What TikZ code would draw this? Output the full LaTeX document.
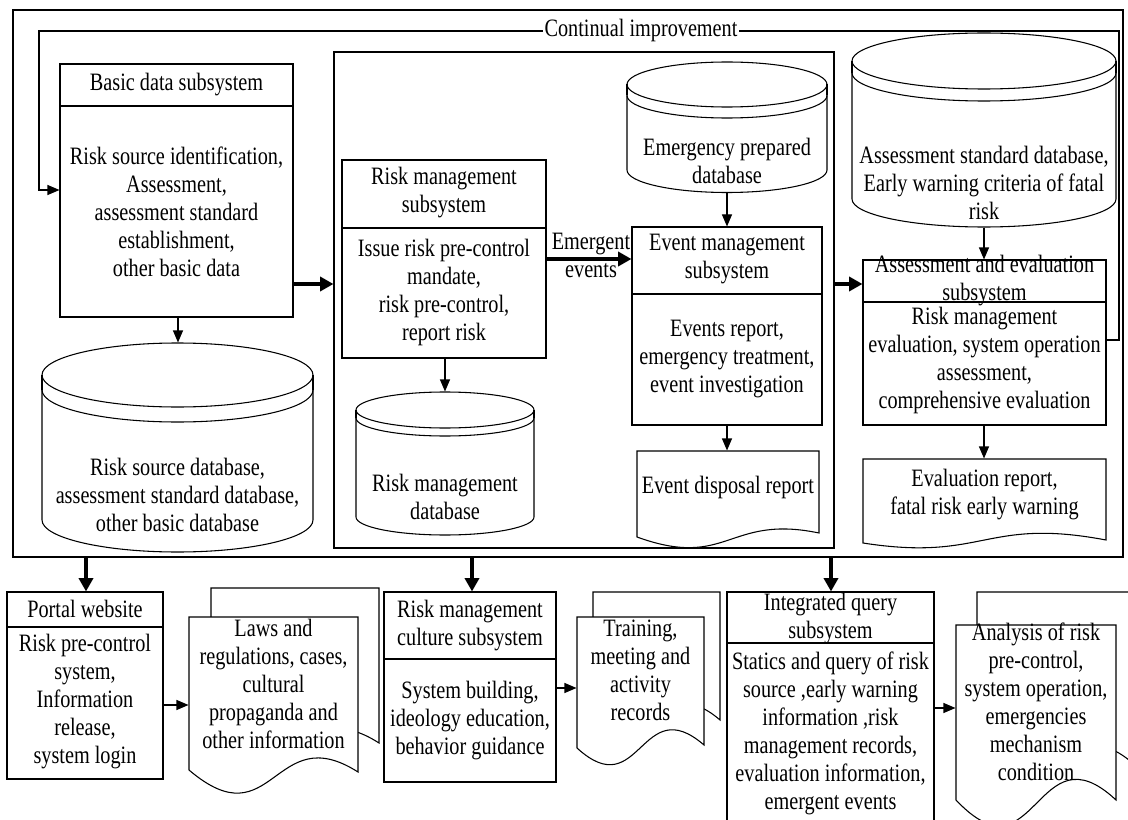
\documentclass[tikz,border=0pt]{standalone}
\usepackage{fontspec}
\setmainfont{Liberation Serif}[FakeStretch=0.81]
\usetikzlibrary{arrows.meta,fit}

% cylinder: name, L, R, cyT, ry, d, cyB
\newcommand\dbshape[7]{%
  \node[fit={(#2,{#4-#5}) (#3,{#7+#5})}] (#1) {};
  \draw[fill=white] (#2,#4) -- (#2,#7)
     arc[start angle=180,end angle=360,x radius={(#3-#2)/2*0.75pt},y radius={#5*0.75pt}]
     -- (#3,#4)
     arc[start angle=0,end angle=180,x radius={(#3-#2)/2*0.75pt},y radius={#5*0.75pt}] -- cycle;
  \draw (#2,#4) arc[start angle=180,end angle=360,x radius={(#3-#2)/2*0.75pt},y radius={#5*0.75pt}];
  \draw (#2,{#4+#6}) arc[start angle=180,end angle=360,x radius={(#3-#2)/2*0.75pt},y radius={#5*0.75pt}];
  \draw (#2,#4) -- (#2,{#4+#6}) (#3,#4) -- (#3,{#4+#6});
}
% document: L, T, R, y0, y1, a1, a2
\newcommand\docpath[7]{%
  \draw[fill=white] (#1,#2) -- (#3,#2) -- (#3,#5)
     .. controls ({(#1+#3)/2},{#5-#7}) and ({(#1+#3)/2},{#4+#6}) .. (#1,#4) -- cycle;
}

\begin{document}
\begin{tikzpicture}[x=0.75pt,y=-0.75pt,line width=0.8pt,
  every node/.style={font=\fontsize{18.75}{21}\selectfont,inner sep=0pt},
  txt/.style={align=center},
  boxed/.style={draw,fill=white},
  thinarr/.style={-{Triangle[length=9pt,width=7.5pt]}},
  bigarr/.style={line width=2.6pt,-{Triangle[length=10pt,width=10.5pt]}},
]
\useasboundingbox (0,0) rectangle (1128,820);
\clip (0,0) rectangle (1128,820);

% outer frame and container
\node[draw,fit={(13,10) (1123,557)}] (outer) {};
\node[draw,fit={(334,52) (834,548)}] (cont) {};

% continual improvement loop
\coordinate (lr) at (1119,31);
\coordinate (ll) at (39,190);

% basic data subsystem
\node[boxed,fit={(60,64) (293,317)}] (bd) {};
\draw (bd.west |- 0,106) -- (bd.east |- 0,106);
\node[txt] (bdh) at (176.5,85) {Basic data subsystem};
\node[txt] (bdb) at (176.5,211.5) {Risk source identification,\\Assessment,\\assessment standard\\establishment,\\other basic data};

\dbshape{rsdb}{42}{313}{375}{32}{15}{520}
\node[txt] (rsdbt) at (177.5,495) {Risk source database,\\assessment standard database,\\other basic database};

% risk management subsystem
\node[boxed,fit={(342,160) (546,358)}] (rm) {};
\draw (rm.west |- 0,228) -- (rm.east |- 0,228);
\node[txt] (rmh) at (444,193) {Risk management\\subsystem};
\node[txt] (rmb) at (444,292.5) {Issue risk pre-control\\mandate,\\risk pre-control,\\report risk};

\dbshape{rmdb}{356}{534}{410}{18}{8}{517}
\node[txt] (rmdbt) at (445,497) {Risk management\\database};

% emergency db and event management
\dbshape{emdb}{627}{827}{84.5}{22.5}{11}{170}
\node[txt] (emdbt) at (727,161) {Emergency prepared\\database};

\node[boxed,fit={(632,227) (822,425)}] (em) {};
\draw (em.west |- 0,294) -- (em.east |- 0,294);
\node[txt] (emh) at (727,259.5) {Event management\\subsystem};
\node[txt] (emb) at (727,359.5) {Events report,\\emergency treatment,\\event investigation};

\docpath{637}{451}{819}{537}{533}{33}{19}
\node[fit={(637,451) (819,537)}] (eddoc) {};
\node[txt] (eddoct) at (728,487) {Event disposal report};

% assessment db and evaluation
\dbshape{asdb}{852}{1116}{61}{28}{12}{199}
\node[txt] (asdbt) at (984,183) {Assessment standard database,\\Early warning criteria of fatal\\risk};

\node[boxed,fit={(863,260) (1106,425)}] (ev) {};
\draw (ev.west |- 0,302) -- (ev.east |- 0,302);
\node[txt] (evh) at (984.5,281) {Assessment and evaluation\\subsystem};
\node[txt] (evb) at (984.5,360) {Risk management\\evaluation, system operation\\assessment,\\comprehensive evaluation};

\docpath{863}{459}{1106}{543}{540}{19}{23}
\node[fit={(863,459) (1106,540)}] (evdoc) {};
\node[txt] (evdoct) at (984.5,494.5) {Evaluation report,\\fatal risk early warning};

% loop line
\draw[thinarr] (ev.east |- 0,340) -| (lr) -| (ll) -- (bd.west |- ll);
\node[fill=white,inner xsep=1pt,inner ysep=2pt] (ci) at (641,30) {Continual improvement};

% top arrows
\draw[thinarr] (bd.south -| 178,0) -- (rsdb.north -| 178,0);
\draw[thinarr] (rm.south -| 445,0) -- (rmdb.north -| 445,0);
\draw[thinarr] (emdb.south -| 727,0) -- (em.north -| 727,0);
\draw[thinarr] (em.south -| 727,0) -- (eddoc.north -| 727,0);
\draw[thinarr] (asdb.south -| 984,0) -- (ev.north -| 984,0);
\draw[thinarr] (ev.south -| 984,0) -- (evdoc.north -| 984,0);

\draw[bigarr] (bd.east |- 0,284) -- (cont.west |- 0,284);
\draw[bigarr] (rm.east |- 0,259) -- (em.west |- 0,259);
\draw[bigarr] (cont.east |- 0,284) -- (ev.west |- 0,284);
\node[txt] (emev) at (591,255) {Emergent\\events};

% bottom row
\node[boxed,fit={(7,592) (163,779)}] (portal) {};
\draw (portal.west |- 0,627) -- (portal.east |- 0,627);
\node[txt] (portalh) at (85,609) {Portal website};
\node[txt] (portalb) at (85,702) {Risk pre-control\\system,\\Information\\release,\\system login};

\docpath{211}{588}{379}{741}{743}{72}{54}
\docpath{189}{617}{358}{770}{772}{72}{54}
\node[fit={(189,617) (358,772)}] (laws) {};
\node[txt] (lawst) at (273.5,684) {Laws and\\regulations, cases,\\cultural\\propaganda and\\other information};

\node[boxed,fit={(384,592) (556,782)}] (cult) {};
\draw (cult.west |- 0,659) -- (cult.east |- 0,659);
\node[txt] (culth) at (470,625.5) {Risk management\\culture subsystem};
\node[txt] (cultb) at (470,721) {System building,\\ideology education,\\behavior guidance};

\docpath{593}{592}{720}{723}{720}{58}{55}
\docpath{577}{617}{704}{748}{745}{58}{55}
\node[fit={(577,617) (704,748)}] (train) {};
\node[txt] (traint) at (640.5,670) {Training,\\meeting and\\activity\\records};

\node[boxed,fit={(727,592) (934,830)}] (iq) {};
\draw (iq.west |- 0,643) -- (iq.east |- 0,643);
\node[txt] (iqh) at (830.5,618.5) {Integrated query\\subsystem};
\node[txt] (iqb) at (830.5,733) {Statics and query of risk\\source ,early warning\\information ,risk\\management records,\\evaluation information,\\emergent events};

\docpath{977}{592}{1137}{767}{767}{85}{75}
\docpath{956}{625}{1116}{800}{800}{85}{75}
\node[fit={(956,625) (1116,800)}] (anal) {};
\node[txt] (analt) at (1036,701.5) {Analysis of risk\\pre-control,\\system operation,\\emergencies\\mechanism\\condition};

% bottom arrows
\draw[bigarr] (outer.south -| 86,0) -- (portal.north -| 86,0);
\draw[bigarr] (outer.south -| 472,0) -- (cult.north -| 472,0);
\draw[bigarr] (outer.south -| 831,0) -- (iq.north -| 831,0);

\draw[thinarr] (portal.east |- 0,705) -- (laws.west |- 0,705);
\draw[thinarr] (cult.east |- 0,688) -- (train.west |- 0,688);
\draw[thinarr] (iq.east |- 0,708) -- (anal.west |- 0,708);
\end{tikzpicture}
\end{document}
